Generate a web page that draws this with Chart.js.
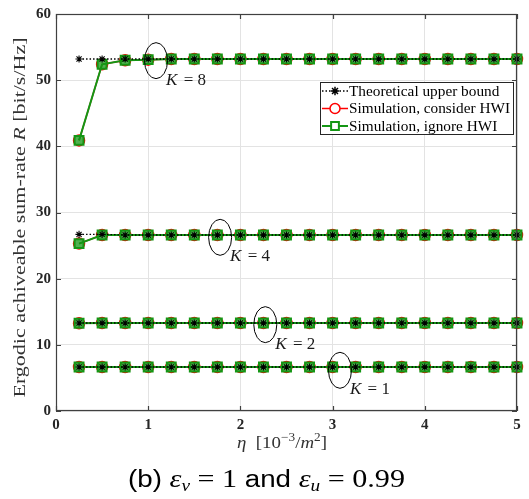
<!DOCTYPE html>
<html><head><meta charset="utf-8">
<script src="https://cdn.jsdelivr.net/npm/chart.js@4"></script>
<style>
html,body{margin:0;padding:0;background:#fff;}
#wrap{position:relative;width:529px;height:499px;}
#c{position:absolute;left:0;top:0;}
#caption{position:absolute;left:128px;top:465px;line-height:28px;color:#000;white-space:nowrap;transform-origin:0 50%;font-family:"Liberation Sans",Arial,sans-serif;font-size:23px;}
.m{font-family:"Liberation Serif","Times New Roman",serif;font-size:25px;}
.i{font-style:italic;}
.sub{font-size:16px;position:relative;top:4px;}
</style></head><body>
<div id="wrap"><canvas id="c" width="529" height="499"></canvas>
<div id="caption">(b) <span class="m i">ε<span class="sub">v</span></span><span class="m"> = 1</span> and <span class="m i">ε<span class="sub">u</span></span><span class="m"> = 0.99</span></div></div>
<script>
// ---- data ----
const etaValues = [0.25,0.5,0.75,1.0,1.25,1.5,1.75,2.0,2.25,2.5,2.75,3.0,3.25,3.5,3.75,4.0,4.25,4.5,4.75,5.0];
const seriesNames = ['Theoretical upper bound','Simulation, consider HWI','Simulation, ignore HWI'];
const kValues = [8,4,2,1];
const theoryK8 = [53.2,53.2,53.2,53.2,53.2,53.2,53.2,53.2,53.2,53.2,53.2,53.2,53.2,53.2,53.2,53.2,53.2,53.2,53.2,53.2];
const considerK8 = [40.9,52.4,53.0,53.1,53.2,53.2,53.2,53.2,53.2,53.2,53.2,53.2,53.2,53.2,53.2,53.2,53.2,53.2,53.2,53.2];
const ignoreK8 = [40.9,52.4,53.0,53.1,53.2,53.2,53.2,53.2,53.2,53.2,53.2,53.2,53.2,53.2,53.2,53.2,53.2,53.2,53.2,53.2];
const theoryK4 = [26.7,26.7,26.6,26.6,26.6,26.6,26.6,26.6,26.6,26.6,26.6,26.6,26.6,26.6,26.6,26.6,26.6,26.6,26.6,26.6];
const considerK4 = [25.3,26.6,26.6,26.6,26.6,26.6,26.6,26.6,26.6,26.6,26.6,26.6,26.6,26.6,26.6,26.6,26.6,26.6,26.6,26.6];
const ignoreK4 = [25.3,26.6,26.6,26.6,26.6,26.6,26.6,26.6,26.6,26.6,26.6,26.6,26.6,26.6,26.6,26.6,26.6,26.6,26.6,26.6];
const theoryK2 = [13.3,13.3,13.3,13.3,13.3,13.3,13.3,13.3,13.3,13.3,13.3,13.3,13.3,13.3,13.3,13.3,13.3,13.3,13.3,13.3];
const considerK2 = [13.25,13.3,13.3,13.3,13.3,13.3,13.3,13.3,13.3,13.3,13.3,13.3,13.3,13.3,13.3,13.3,13.3,13.3,13.3,13.3];
const ignoreK2 = [13.25,13.3,13.3,13.3,13.3,13.3,13.3,13.3,13.3,13.3,13.3,13.3,13.3,13.3,13.3,13.3,13.3,13.3,13.3,13.3];
const theoryK1 = [6.65,6.65,6.65,6.65,6.65,6.65,6.65,6.65,6.65,6.65,6.65,6.65,6.65,6.65,6.65,6.65,6.65,6.65,6.65,6.65];
const considerK1 = [6.65,6.65,6.65,6.65,6.65,6.65,6.65,6.65,6.65,6.65,6.65,6.65,6.65,6.65,6.65,6.65,6.65,6.65,6.65,6.65];
const ignoreK1 = [6.65,6.65,6.65,6.65,6.65,6.65,6.65,6.65,6.65,6.65,6.65,6.65,6.65,6.65,6.65,6.65,6.65,6.65,6.65,6.65];
const xTickValues = [0,1,2,3,4,5];
const yTickValues = [0,10,20,30,40,50,60];
// annotation ellipses (data coordinates) and labels
const annotationLabels = ['8','4','2','1'];
const annotationEta = [1.085,1.78,2.27,3.08];
const annotationRate = [52.95,26.25,13.05,6.15];

// caption: stretch to the typeset width of the original
(function(){
  const cap=document.getElementById('caption');
  const w=cap.getBoundingClientRect().width;
  cap.style.transform='scaleX('+(277/w)+')';
})();

// ---- styles ----
const SERIF = '"Liberation Serif","Times New Roman",serif';
const BLACK = '#000000', RED = '#ff0000', GREEN = '#149614';
const styles = [
  {color:BLACK, pointStyle:'star', radius:3.6, width:1.1, dash:[1.5,2], fill:'rgba(0,0,0,0)', order:0},
  {color:RED, pointStyle:'circle', radius:5.5, width:1.5, dash:[], fill:'rgba(0,0,0,0)', order:2},
  {color:GREEN, pointStyle:'rect', radius:6.3, width:2, dash:[], fill:'rgba(20,150,20,0.75)', order:1}
];
const groups = [[theoryK8,considerK8,ignoreK8],[theoryK4,considerK4,ignoreK4],[theoryK2,considerK2,ignoreK2],[theoryK1,considerK1,ignoreK1]];
const datasets = [];
groups.forEach((g,gi)=>{
  g.forEach((vals,si)=>{
    const s = styles[si];
    datasets.push({
      label: seriesNames[si]+' K='+kValues[gi],
      data: etaValues.map((e,i)=>({x:e,y:vals[i]})),
      borderColor:s.color, backgroundColor:s.fill, borderWidth:si==0?1.3:s.width, borderDash:s.dash,
      pointStyle:s.pointStyle, pointRadius:s.radius, pointBorderColor:s.color,
      pointBackgroundColor:s.fill, pointBorderWidth:s.width, tension:0, clip:false, order:s.order
    });
  });
});

const overlay = {
  id:'overlay',
  afterDraw(chart){
    const {ctx, chartArea:a, scales:{x,y}} = chart;
    ctx.save();
    // frame
    ctx.strokeStyle='#404040'; ctx.lineWidth=1.2;
    ctx.strokeRect(a.left+0.5, a.top+0.5, a.right-a.left-1, a.bottom-a.top-1);
    // inward ticks
    ctx.beginPath();
    xTickValues.forEach(v=>{const px=Math.round(x.getPixelForValue(v))+0.5;
      ctx.moveTo(px,a.bottom); ctx.lineTo(px,a.bottom-5); ctx.moveTo(px,a.top); ctx.lineTo(px,a.top+5);});
    yTickValues.forEach(v=>{const py=Math.round(y.getPixelForValue(v))+0.5;
      ctx.moveTo(a.left,py); ctx.lineTo(a.left+5,py); ctx.moveTo(a.right,py); ctx.lineTo(a.right-5,py);});
    ctx.stroke();

    // ellipses + K labels
    ctx.strokeStyle='#000'; ctx.lineWidth=1;
    annotationLabels.forEach((lab,i)=>{
      const cx=x.getPixelForValue(annotationEta[i]), cy=y.getPixelForValue(annotationRate[i]);
      ctx.beginPath(); ctx.ellipse(cx,cy,11.5,18,0,0,Math.PI*2); ctx.stroke();
      ctx.fillStyle='#1a1a1a'; ctx.textBaseline='alphabetic'; ctx.textAlign='left';
      ctx.font='italic 17px '+SERIF; ctx.fillText('K',cx+10,cy+24);
      const kw=ctx.measureText('K').width;
      ctx.font='17px '+SERIF; ctx.fillText(' = '+lab,cx+10+kw+2,cy+24);
    });

    // y axis title (stretched to match the typeset width)
    ctx.fillStyle='#333333';
    ctx.save();
    ctx.translate(21,(a.top+a.bottom)/2+5); ctx.rotate(-Math.PI/2);
    const p1='Ergodic achiveable sum-rate ', p2='R', p3=' [bit/s/Hz]';
    const F='16px '+SERIF, FI='italic 16px '+SERIF;
    ctx.font=F; const w1=ctx.measureText(p1).width, w3=ctx.measureText(p3).width;
    ctx.font=FI; const w2=ctx.measureText(p2).width;
    const sc=360/(w1+w2+w3);
    ctx.scale(sc,1);
    let sx=-(w1+w2+w3)/2; ctx.textBaseline='middle'; ctx.textAlign='left';
    ctx.font=F; ctx.fillText(p1,sx,0);
    ctx.font=FI; ctx.fillText(p2,sx+w1,0);
    ctx.font=F; ctx.fillText(p3,sx+w1+w2,0);
    ctx.restore();
    // x title: η [10^-3/m^2]
    {
      const base=448; ctx.textBaseline='alphabetic'; ctx.textAlign='left';
      const parts=[['italic 17px','η'],['17px','  [10'],['12px','−3',-7],['17px','/'],['italic 17px','m'],['12px','2',-7],['17px',']']];
      let tw=0; parts.forEach(p=>{ctx.font=p[0]+' '+SERIF; tw+=ctx.measureText(p[1]).width;});
      const sc2=90/tw;
      ctx.save(); ctx.translate(282-45,base); ctx.scale(sc2,1);
      let px=0;
      parts.forEach(p=>{ctx.font=p[0]+' '+SERIF; ctx.fillText(p[1],px,(p[2]||0)); px+=ctx.measureText(p[1]).width;});
      ctx.restore();
    }

    // legend
    const lx=320, ly=82, lw=193, lh=52;
    ctx.fillStyle='#fff'; ctx.fillRect(lx,ly,lw,lh);
    ctx.strokeStyle='#262626'; ctx.lineWidth=1; ctx.strokeRect(lx+0.5,ly+0.5,lw,lh);
    const rows=[91,108.5,126];
    ctx.font='15px '+SERIF;
    const s3=161/ctx.measureText(seriesNames[1]).width;
    seriesNames.forEach((name,i)=>{
      const s=styles[i], ry=rows[i];
      ctx.strokeStyle=s.color; ctx.lineWidth=i==0?1.3:s.width; ctx.setLineDash(s.dash);
      ctx.beginPath(); ctx.moveTo(lx+2,ry); ctx.lineTo(lx+28,ry); ctx.stroke(); ctx.setLineDash([]);
      ctx.strokeStyle=s.color; ctx.fillStyle='#ffffff'; ctx.lineWidth=i==0?1.5:s.width;
      Chart.helpers.drawPoint(ctx,{pointStyle:s.pointStyle,radius:i==2?5.5:(i==0?4.2:5),borderWidth:ctx.lineWidth,rotation:0},lx+15,ry);
      ctx.fillStyle='#000'; ctx.textBaseline='middle'; ctx.textAlign='left';
      ctx.save(); ctx.translate(lx+29,ry+1);
      ctx.scale(s3,1); ctx.font='15px '+SERIF; ctx.fillText(name,0,0);
      ctx.restore();
    });
    ctx.restore();
  }
};

new Chart(document.getElementById('c'),{
  type:'line',
  data:{datasets},
  options:{
    responsive:false, animation:false, maintainAspectRatio:false,
    layout:{padding:{left:0,top:11,right:12,bottom:0}},
    plugins:{legend:{display:false},tooltip:{enabled:false},title:{display:false}},
    scales:{
      x:{type:'linear',min:0,max:5,
        afterFit:s=>{s.height=88;},
        afterBuildTicks:s=>{s.ticks=xTickValues.map(v=>({value:v}));},
        ticks:{padding:5,color:'#262626',font:{family:SERIF,size:15,weight:'bold'}},
        grid:{color:'#e3e3e3',lineWidth:1,drawTicks:false},border:{display:false}},
      y:{type:'linear',min:0,max:60,
        afterFit:s=>{s.width=56;},
        afterBuildTicks:s=>{s.ticks=yTickValues.map(v=>({value:v}));},
        ticks:{padding:5,color:'#262626',font:{family:SERIF,size:15,weight:'bold'}},
        grid:{color:'#e3e3e3',lineWidth:1,drawTicks:false},border:{display:false}}
    }
  },
  plugins:[overlay]
});
</script>
</body></html>
